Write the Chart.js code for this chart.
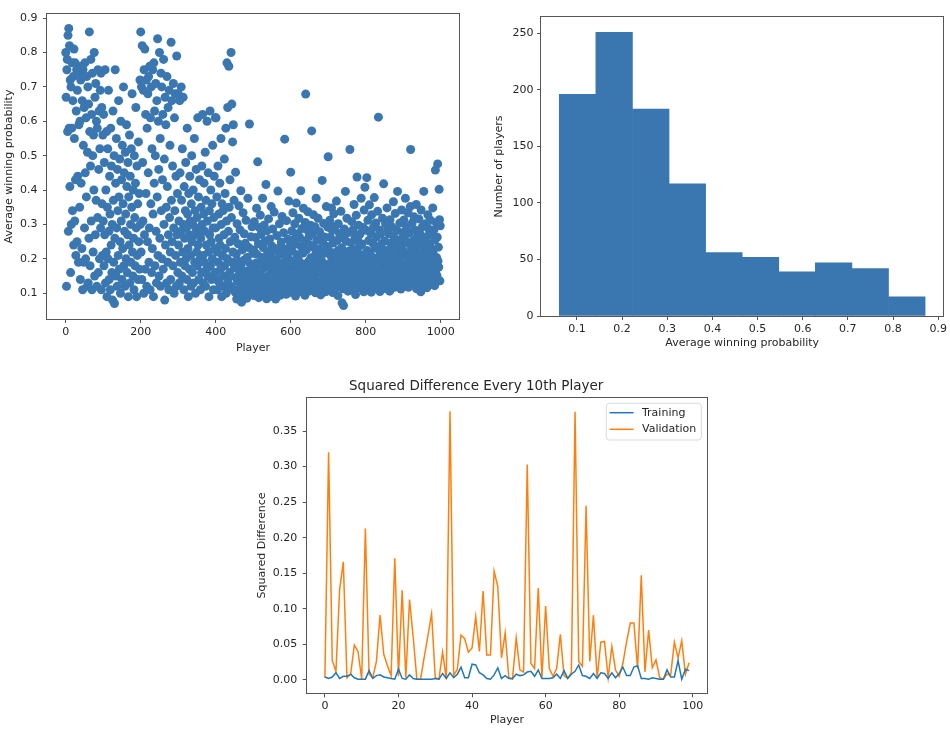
<!DOCTYPE html>
<html>
<head>
<meta charset="utf-8">
<script src="https://cdn.jsdelivr.net/npm/chart.js@4.4.1/dist/chart.umd.min.js"></script>
<style>
  html, body { margin: 0; padding: 0; background: #fff; }
  #page { position: relative; width: 950px; height: 737px; overflow: hidden; }
  canvas { position: absolute; }
</style>
</head>
<body>
<div id="page">
  <canvas id="scatter" width="470" height="370" style="left:0;top:0"></canvas>
  <canvas id="hist" width="470" height="370" style="left:480px;top:0"></canvas>
  <canvas id="diff" width="470" height="367" style="left:245px;top:370px"></canvas>
</div>
<script>
// ---- data ----

// average winning probability of each player, in player order 0..999
const winProb = [
  .80,.67,.12,.75,.78,.57,.85,.28,.87,.58,.82,.41,.72,.16,.70,.30,.58,.77,.34,.66,
  .73,.24,.81,.55,.31,.77,.43,.21,.63,.75,.25,.69,.44,.76,.19,.59,.74,.35,.60,.14,
  .72,.42,.76,.23,.66,.11,.75,.53,.19,.64,.29,.77,.45,.20,.61,.38,.73,.12,.51,.70,
  .13,.65,.26,.86,.57,.18,.47,.78,.31,.62,.11,.74,.50,.22,.56,.40,.80,.15,.67,.27,
  .71,.37,.60,.12,.58,.32,.75,.16,.46,.63,.20,.52,.69,.29,.74,.11,.64,.36,.21,.56,
  .31,.62,.18,.48,.27,.75,.13,.40,.22,.57,.09,.35,.52,.20,.69,.28,.14,.44,.33,.11,
  .58,.24,.47,.16,.30,.08,.63,.37,.19,.50,.07,.26,.75,.42,.15,.55,.29,.12,.46,.34,
  .21,.66,.38,.17,.49,.25,.10,.60,.31,.43,.14,.53,.23,.36,.70,.18,.45,.28,.12,.51,
  .33,.20,.59,.41,.16,.27,.48,.09,.38,.24,.56,.13,.44,.30,.19,.52,.35,.68,.22,.15,
  .40,.26,.11,.50,.32,.18,.42,.64,.29,.09,.47,.21,.36,.14,.54,.25,.39,.17,.72,.30,
  .86,.22,.70,.14,.82,.48,.31,.69,.10,.75,.27,.81,.17,.62,.39,.72,.12,.58,.25,.68,
  .45,.73,.19,.29,.76,.11,.61,.36,.70,.16,.52,.23,.75,.33,.09,.77,.42,.63,.18,.50,
  .71,.28,.13,.66,.38,.84,.21,.60,.46,.15,.80,.26,.55,.12,.74,.34,.70,.20,.43,.62,
  .17,.78,.30,.49,.08,.67,.24,.59,.35,.13,.73,.41,.19,.64,.27,.11,.69,.32,.53,.22,
  .14,.83,.37,.66,.25,.47,.18,.71,.29,.10,.61,.34,.68,.21,.44,.12,.79,.27,.39,.16,
  .68,.24,.31,.13,.66,.45,.19,.28,.70,.37,.15,.52,.22,.67,.30,.11,.41,.26,.18,.34,
  .48,.20,.29,.14,.58,.33,.23,.09,.39,.27,.17,.44,.31,.21,.12,.36,.50,.25,.16,.30,
  .40,.13,.27,.55,.19,.34,.10,.29,.46,.22,.32,.18,.61,.24,.38,.14,.28,.43,.20,.11,
  .26,.35,.16,.47,.30,.62,.21,.13,.33,.42,.19,.28,.51,.12,.37,.24,.17,.60,.31,.15,
  .45,.22,.09,.34,.27,.63,.18,.40,.25,.14,.36,.20,.53,.29,.11,.32,.44,.23,.16,.61,
  .29,.61,.14,.38,.22,.11,.47,.19,.33,.26,.13,.42,.24,.17,.55,.30,.09,.36,.21,.15,
  .34,.12,.27,.49,.18,.39,.23,.58,.10,.31,.77,.20,.64,.14,.28,.76,.35,.16,.43,.25,
  .12,.80,.32,.65,.19,.54,.22,.59,.11,.37,
  .174,.263,.103,.452,.146,.214,.083,.302,.134,.193,.244,.112,.354,.165,.092,.284,.136,.398,.183,.074,
  .153,.226,.124,.334,.105,.196,.273,.143,.094,.245,.116,.312,.164,.085,.204,.132,.376,.101,.233,.157,
  .592,.123,.186,.096,.264,.147,.114,.293,.175,.216,
  .142,.226,.093,.308,.171,.124,.262,.187,.104,.347,.213,.133,.482,.158,.244,.087,.291,.117,.183,.327,
  .128,.271,.152,.204,.106,.376,.139,.233,.096,.298,.174,.115,.252,.131,.416,.193,.084,.282,.149,.219,
  .101,.316,.178,.122,.258,.145,.208,.091,.352,.163,.237,.112,.287,.191,.136,.168,.336,.099,.224,.154,
  .083,.198,.127,.268,.181,.109,.397,.161,.231,.119,.302,.147,.094,.213,.141,.249,.121,.323,.172,.103,
  .189,.276,.134,.157,.548,.113,.228,.179,.097,.311,.143,.209,.118,.257,.166,.368,.102,.196,.151,.239,
  .452,.183,.124,.281,.223,.152,.334,.103,.194,.257,.131,.302,.176,.092,.243,.362,.145,.212,.114,.273,
  .206,.127,.318,.163,.262,.105,.189,.398,.142,.234,.288,.156,.113,.217,.347,.181,.134,.251,.094,.306,
  .679,.171,.226,.123,.284,.147,.337,.192,.106,.265,.162,.241,.137,.298,.203,.116,.572,.185,.274,.153,
  .125,.328,.197,.232,.144,.293,.101,.214,.376,.174,.254,.112,.186,.318,.133,.227,.166,.279,.121,.204,
  .095,.268,.157,.193,.428,.126,.246,.173,.303,.141,.216,.132,.263,.104,.182,.352,.154,.236,.115,.292,
  .497,.143,.224,.186,.312,.114,.263,.165,.207,.348,.134,.283,.102,.246,.173,.331,.125,.218,.294,.156,
  .192,.117,.368,.147,.253,.184,.093,.302,.226,.136,.274,.163,.208,.124,.338,.155,.232,.072,.197,.261,
  .113,.064,.176,.287,.146,.214,.396,.128,.251,.183,.318,.137,.194,.106,.276,.167,.223,.144,.518,.205,
  .158,.247,.122,.308,.186,.115,.284,.174,.133,.358,.226,.142,.262,.096,.203,.327,.153,.438,.127,.254,
  .185,.298,.116,.236,.168,.272,.135,.212,.376,.147,.243,.126,.195,.291,.157,.104,.342,.178,.408,.206,
  .134,.283,.176,.436,.224,.113,.312,.157,.253,.194,.357,.125,.216,.164,.274,.103,.328,.185,.143,.246,
  .203,.292,.136,.378,.172,.233,.116,.304,.153,.264,.126,.195,.338,.147,.612,.226,.167,.284,.105,.213,
  .272,.154,.243,.123,.182,.318,.145,.206,.418,.174,.114,.252,.163,.302,.137,.224,.196,.348,.127,.286,
  .184,.142,.273,.215,.106,.314,.166,.245,.135,.202,.293,.124,.228,.176,.366,.156,.262,.117,.193,.332,
  .146,.234,.187,.283,.125,.396,.164,.214,.254,.136,.205,.304,.153,.243,.112,.184,.342,.146,.276,.172,
  .224,.155,.313,.126,.264,.183,.376,.144,.206,.293,.135,.246,.174,.334,.117,.214,.165,.276,.193,.352,
  .518,.146,.232,.124,.304,.186,.253,.157,.203,.322,.166,.284,.137,.225,.176,.358,.113,.263,.195,.148,
  .244,.127,.316,.184,.156,.273,.213,.104,.342,.167,.196,.293,.143,.236,.134,.396,.174,.254,.123,.224,
  .302,.153,.206,.116,.265,.182,.328,.145,.215,.286,.132,.243,.176,.312,.164,.227,.125,.274,.193,.348,
  .216,.143,.284,.185,.122,.255,.458,.167,.306,.204,.152,.263,.476,.194,.234,.176,.402,.314,.136,.296
];
const scatterXTicks = [0, 200, 400, 600, 800, 1000];
const scatterYTicks = [0.1, 0.2, 0.3, 0.4, 0.5, 0.6, 0.7, 0.8, 0.9];

// histogram of the same probabilities
const binEdges = [0.061, 0.142, 0.223, 0.304, 0.385, 0.466, 0.547, 0.628, 0.709, 0.790, 0.871];
const binCounts = [196, 251, 183, 117, 56, 52, 39, 47, 42, 17];
const histXTicks = [0.1, 0.2, 0.3, 0.4, 0.5, 0.6, 0.7, 0.8, 0.9];
const histYTicks = [0, 50, 100, 150, 200, 250];

// squared difference, every 10th player (index 0..99)
const trainDiff = [
  .004,.002,.004,.010,.002,.005,.005,.008,.003,.001, .001,.001,.013,.002,.006,.007,.004,.003,.002,.001,
  .015,.002,.001,.007,.002,.001,.001,.001,.001,.001, .002,.001,.009,.002,.010,.003,.008,.018,.003,.003,
  .022,.021,.010,.007,.002,.001,.007,.017,.002,.006, .002,.002,.008,.006,.007,.011,.012,.005,.014,.002,
  .002,.002,.003,.008,.002,.013,.002,.008,.012,.021, .006,.005,.002,.009,.002,.010,.009,.002,.010,.003,
  .009,.018,.006,.006,.018,.020,.002,.002,.001,.003, .002,.001,.001,.014,.004,.004,.027,.001,.015,.013
];
const valDiff = [
  .003,.320,.027,.012,.127,.166,.003,.008,.049,.040, .001,.213,.008,.003,.026,.091,.036,.020,.006,.171,
  .005,.126,.003,.113,.060,.001,.001,.032,.062,.093, .003,.001,.039,.001,.378,.006,.015,.063,.058,.039,
  .045,.089,.040,.125,.035,.035,.153,.131,.031,.066, .003,.001,.059,.014,.011,.303,.023,.016,.129,.003,
  .104,.016,.005,.016,.064,.006,.002,.010,.377,.026, .019,.245,.026,.091,.002,.053,.054,.003,.047,.014,
  .005,.023,.053,.080,.080,.016,.147,.011,.070,.017, .028,.003,.001,.008,.007,.053,.031,.055,.008,.024
];
const seriesNames = ['Training', 'Validation'];
const diffXTicks = [0, 20, 40, 60, 80, 100];
const diffYTicks = [0, 0.05, 0.10, 0.15, 0.20, 0.25, 0.30, 0.35];

// ---- styling ----
const BLUE = '#3a77b1';
const LINE_BLUE = '#2277b4';
const ORANGE = '#ff7f0e';
const AXIS_COLOR = '#555';
const TEXT_COLOR = '#262626';

Chart.defaults.font.family = "'DejaVu Sans', sans-serif";
Chart.defaults.font.size = 11;
Chart.defaults.color = TEXT_COLOR;
Chart.defaults.animation = false;
Chart.defaults.events = [];
Chart.defaults.plugins.legend.display = false;
Chart.defaults.plugins.tooltip.enabled = false;

// draws the four spines around the plot area
const framePlugin = {
  id: 'frame',
  afterDatasetsDraw(chart) {
    const { ctx, chartArea: a } = chart;
    ctx.save();
    ctx.strokeStyle = AXIS_COLOR;
    ctx.lineWidth = 1;
    const l = Math.round(a.left) - 0.5, t = Math.round(a.top) - 0.5;
    const r = Math.round(a.right) + 0.5, b = Math.round(a.bottom) + 0.5;
    ctx.strokeRect(l, t, r - l, b - t);
    ctx.restore();
  }
};

// matplotlib-like legend box in the upper right corner
const cornerLegend = {
  id: 'cornerLegend',
  afterDraw(chart) {
    const { ctx, chartArea: a } = chart;
    const sets = chart.data.datasets;
    ctx.save();
    ctx.font = "11px 'DejaVu Sans'";
    const textW = Math.max(...sets.map(d => ctx.measureText(d.label).width));
    const w = 35.7 + textW + 5, h = 36.7;
    const x = a.right - 6 - w, y = a.top + 5.6;
    ctx.beginPath();
    ctx.roundRect(x, y, w, h, 3);
    ctx.fillStyle = 'rgba(255,255,255,0.85)';
    ctx.fill();
    ctx.strokeStyle = '#d9d9d9';
    ctx.lineWidth = 1;
    ctx.stroke();
    sets.forEach((d, i) => {
      const cy = y + 9.4 + i * 16.6;
      ctx.strokeStyle = d.borderColor;
      ctx.lineWidth = 1.5;
      ctx.beginPath();
      ctx.moveTo(x + 3.3, cy);
      ctx.lineTo(x + 27.3, cy);
      ctx.stroke();
      ctx.fillStyle = TEXT_COLOR;
      ctx.textBaseline = 'middle';
      ctx.fillText(d.label, x + 35.7, cy);
    });
    ctx.restore();
  }
};

function axis({ min, max, ticks, fmt, horizontal, size, tickPad, title, titlePad }) {
  return {
    type: 'linear',
    min, max,
    offset: false,
    afterBuildTicks: s => { s.ticks = ticks.map(v => ({ value: v })); },
    afterFit: s => { if (horizontal) s.height = size; else s.width = size; },
    grid: { drawOnChartArea: false, drawTicks: true, tickLength: 4, color: AXIS_COLOR, offset: false },
    border: { display: false },
    ticks: { padding: tickPad, autoSkip: false, maxRotation: 0, callback: v => fmt(v) },
    title: {
      display: true,
      text: title,
      font: { size: 11 },
      padding: horizontal ? { top: 0, bottom: titlePad } : { top: titlePad, bottom: 0 }
    }
  };
}

// ---- scatter ----
new Chart(document.getElementById('scatter'), {
  type: 'scatter',
  data: {
    datasets: [{
      data: winProb.map((p, i) => ({ x: i, y: p })),
      backgroundColor: BLUE,
      borderWidth: 0,
      pointRadius: 4.5
    }]
  },
  options: {
    responsive: false,
    layout: { padding: { left: 0, top: 14, right: 11, bottom: 0 } },
    scales: {
      x: axis({ min: -50, max: 1049, ticks: scatterXTicks, fmt: v => String(v), horizontal: true,
                size: 51, tickPad: 3, title: 'Player', titlePad: 15 }),
      y: axis({ min: 0.025, max: 0.912, ticks: scatterYTicks, fmt: v => v.toFixed(1), horizontal: false,
                size: 47, tickPad: 5.5, title: 'Average winning probability', titlePad: 3 })
    }
  },
  plugins: [framePlugin]
});

// ---- histogram ----
new Chart(document.getElementById('hist'), {
  type: 'bar',
  data: {
    datasets: [{
      data: binCounts.map((c, i) => ({ x: (binEdges[i] + binEdges[i + 1]) / 2, y: c })),
      backgroundColor: BLUE,
      borderWidth: 0,
      barPercentage: 1,
      categoryPercentage: 1
    }]
  },
  options: {
    responsive: false,
    layout: { padding: { left: 0, top: 17, right: 5, bottom: 0 } },
    scales: {
      x: axis({ min: 0.0205, max: 0.9115, ticks: histXTicks, fmt: v => v.toFixed(1), horizontal: true,
                size: 54, tickPad: 3, title: 'Average winning probability', titlePad: 20 }),
      y: axis({ min: 0, max: 264.5, ticks: histYTicks, fmt: v => String(v), horizontal: false,
                size: 61, tickPad: 3.5, title: 'Number of players', titlePad: 12.9 })
    }
  },
  plugins: [framePlugin]
});

// ---- squared difference lines ----
new Chart(document.getElementById('diff'), {
  type: 'line',
  data: {
    datasets: [
      { label: seriesNames[0], data: trainDiff.map((v, i) => ({ x: i, y: v })), borderColor: LINE_BLUE },
      { label: seriesNames[1], data: valDiff.map((v, i) => ({ x: i, y: v })), borderColor: ORANGE }
    ]
  },
  options: {
    responsive: false,
    elements: { point: { radius: 0 }, line: { borderWidth: 1.5, tension: 0 } },
    layout: { padding: { left: 0, top: 0, right: 7.7, bottom: 0 } },
    plugins: {
      title: {
        display: true,
        text: 'Squared Difference Every 10th Player',
        font: { size: 13.5, weight: 'normal' },
        color: TEXT_COLOR,
        padding: { top: 7.9, bottom: 3.6 }
      }
    },
    scales: {
      x: axis({ min: -4.95, max: 103.95, ticks: diffXTicks, fmt: v => String(v), horizontal: true,
                size: 43.7, tickPad: 2, title: 'Player', titlePad: 10.4 }),
      y: axis({ min: -0.0189, max: 0.3969, ticks: diffYTicks, fmt: v => v.toFixed(2), horizontal: false,
                size: 61.7, tickPad: 5.4, title: 'Squared Difference', titlePad: 10.9 })
    }
  },
  plugins: [framePlugin, cornerLegend]
});
</script>
</body>
</html>
